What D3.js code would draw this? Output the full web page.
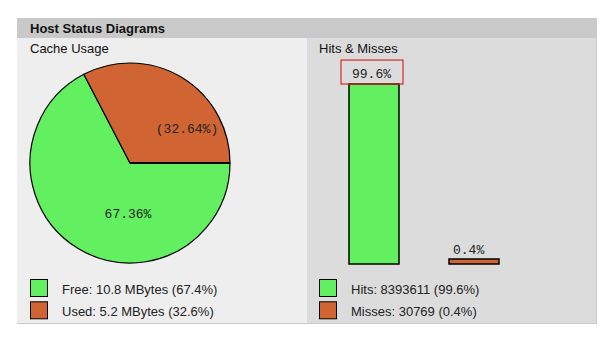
<!DOCTYPE html>
<html>
<head>
<meta charset="utf-8">
<script src="https://cdn.jsdelivr.net/npm/d3@7/dist/d3.min.js"></script>
<style>
  html, body { margin: 0; padding: 0; background: #ffffff; }
  svg { display: block; }
</style>
</head>
<body>
<svg id="chart" width="604" height="338"></svg>
<script>
// Cache usage (pie)
const cacheLabels = ["Free", "Used"];
const cacheMBytes = [10.8, 5.2];
const cachePercent = [67.36, 32.64];
const cacheLegendPercent = ["67.4%", "32.6%"];

// Hits & misses (bars)
const hmLabels = ["Hits", "Misses"];
const hmCounts = [8393611, 30769];
const hmPercent = [99.6, 0.4];

const colors = ["#62f060", "#d06432"];

const svg = d3.select("#chart");
const sans = "Liberation Sans, Arial, sans-serif";
const mono = "Liberation Mono, DejaVu Sans Mono, monospace";

// Frame: title bar plus two panels
svg.append("rect").attr("x", 17).attr("y", 18).attr("width", 580).attr("height", 306).attr("fill", "#c9c9c9");
svg.append("rect").attr("x", 17).attr("y", 38).attr("width", 290).attr("height", 285).attr("fill", "#eeeeee");
svg.append("rect").attr("x", 307).attr("y", 38).attr("width", 289).attr("height", 285).attr("fill", "#dcdcdc");
svg.append("text").attr("x", 30).attr("y", 33).attr("font-family", sans).attr("font-weight", "bold")
  .attr("font-size", 13).attr("fill", "#111").text("Host Status Diagrams");
svg.append("text").attr("x", 30).attr("y", 53).attr("font-family", sans)
  .attr("font-size", 13).attr("fill", "#111").text("Cache Usage");
svg.append("text").attr("x", 319).attr("y", 53).attr("font-family", sans)
  .attr("font-size", 13).attr("fill", "#111").text("Hits & Misses");

// Pie: first slice starts at 3 o'clock and runs clockwise
const cx = 130, cy = 163, r = 100;
const startAngle = Math.PI / 2;
const pie = d3.pie().sort(null).value(d => d)
  .startAngle(startAngle).endAngle(startAngle + 2 * Math.PI);
const arcs = pie(cachePercent);
const arc = d3.arc().innerRadius(0).outerRadius(r);
const pg = svg.append("g").attr("transform", `translate(${cx},${cy})`);
pg.selectAll("path").data(arcs).join("path")
  .attr("d", arc).attr("fill", (d, i) => colors[i])
  .attr("stroke", "#000").attr("stroke-width", 1.2).attr("stroke-linejoin", "round");
// radius at the starting edge is drawn heavier
pg.append("line").attr("x1", 0).attr("y1", 0).attr("x2", r).attr("y2", 0)
  .attr("stroke", "#000").attr("stroke-width", 2);

const pieLabelPos = [[-2, 54.5], [57, -30.5]];
pg.selectAll("text.pl").data(arcs).join("text").attr("class", "pl")
  .attr("x", (d, i) => pieLabelPos[i][0]).attr("y", (d, i) => pieLabelPos[i][1])
  .attr("text-anchor", "middle")
  .attr("font-family", mono).attr("font-size", 13).attr("fill", "#222")
  .text((d, i) => i === 0 ? d.data.toFixed(2) + "%" : "(" + d.data.toFixed(2) + "%)");

// Bars
const x = d3.scalePoint().domain(hmLabels).range([374, 474]);
const barW = 50;
const y = d3.scaleLinear().domain([0, 100]).range([264, 83.3]);
const minH = 5;
const bg = svg.append("g");
hmLabels.forEach((lab, i) => {
  const left = x(lab) - barW / 2;
  const h = Math.max(y(0) - y(hmPercent[i]), minH);
  bg.append("rect").attr("x", left).attr("y", y(0) - h).attr("width", barW).attr("height", h)
    .attr("fill", colors[i]).attr("stroke", "#000").attr("stroke-width", 1.5);
  const t = bg.append("text").attr("x", left + 4).attr("y", y(0) - h - 5)
    .attr("font-family", mono).attr("font-size", 13).attr("fill", "#222")
    .text(hmPercent[i] + "%");
  if (i === 0) {
    bg.append("rect").attr("x", left - 8).attr("y", y(0) - h - 24).attr("width", 62).attr("height", 24)
      .attr("fill", "none").attr("stroke", "#d42a2a").attr("stroke-width", 1.2);
    t.attr("x", left + 3).attr("y", y(0) - h - 6);
  }
});

// Legends
function legend(x0, items) {
  items.forEach((txt, i) => {
    const yy = 279.5 + i * 22.3;
    svg.append("rect").attr("x", x0).attr("y", yy).attr("width", 17).attr("height", 17)
      .attr("fill", colors[i]).attr("stroke", "#000").attr("stroke-width", 1);
    svg.append("text").attr("x", x0 + 31.5).attr("y", yy + 14).attr("font-family", sans)
      .attr("font-size", 13).attr("fill", "#222").text(txt);
  });
}
legend(30.5, cacheLabels.map((l, i) => `${l}: ${cacheMBytes[i]} MBytes (${cacheLegendPercent[i]})`));
legend(319.5, hmLabels.map((l, i) => `${l}: ${hmCounts[i]} (${hmPercent[i]}%)`));
</script>
</body>
</html>
